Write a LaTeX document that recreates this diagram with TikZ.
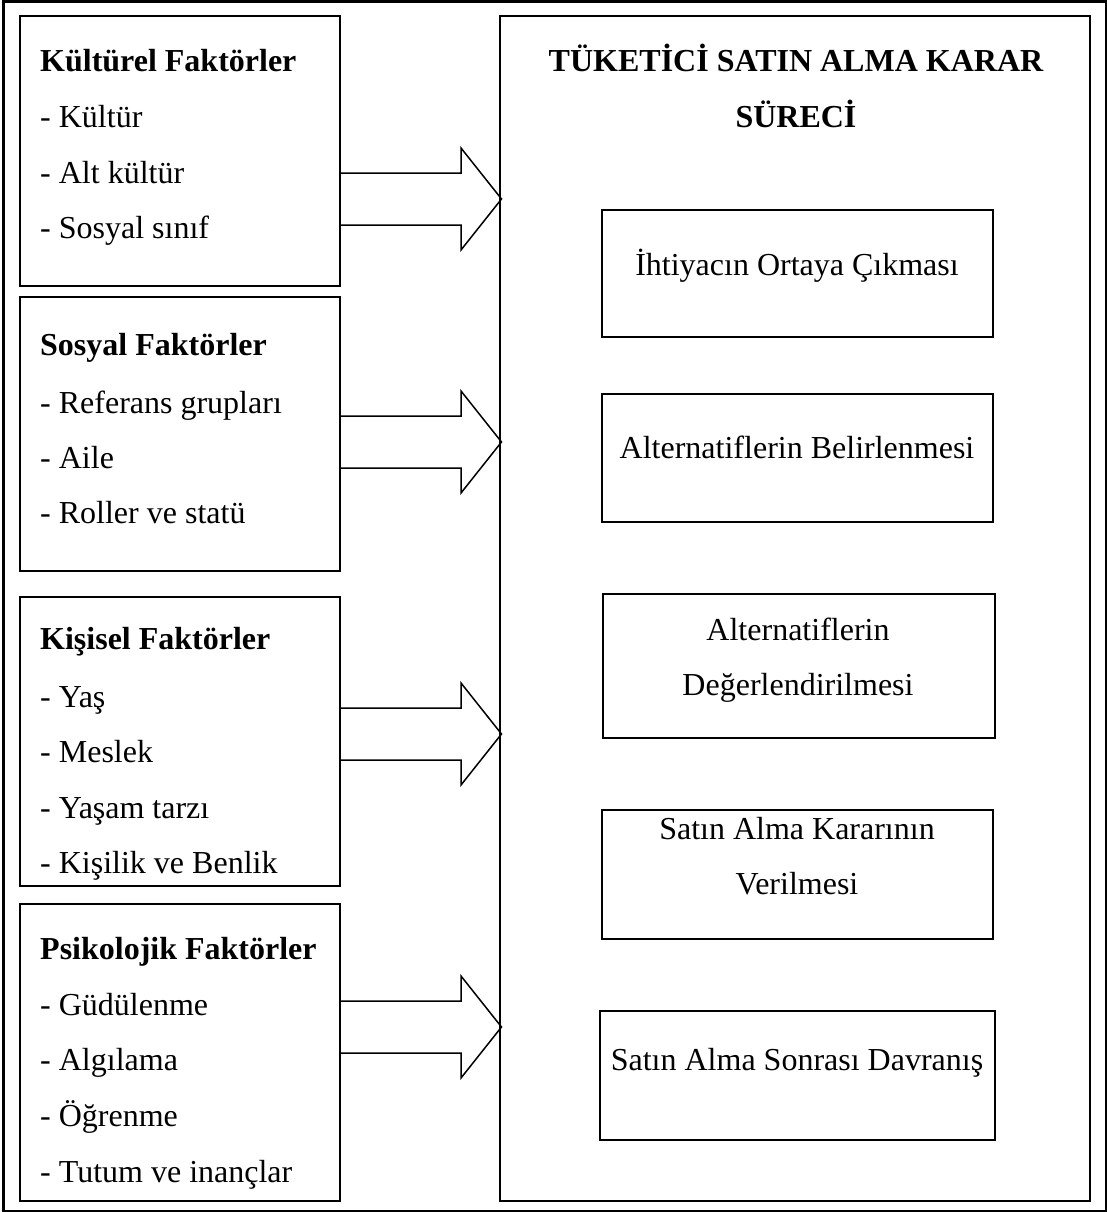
\documentclass[tikz,border=0pt]{standalone}
\usepackage{fontspec}
\setmainfont{Liberation Serif}
\usetikzlibrary{calc}
\begin{document}
\begin{tikzpicture}[x=1pt,y=-1pt,
  frame/.style={draw, line width=2.6pt},
  box/.style={draw, line width=1.9pt, rectangle, inner sep=0, outer sep=0},
  blockarrow/.style={draw, line width=1.5pt, line join=miter},
  item/.style={anchor=base west, inner sep=0, font=\fontsize{32}{38}\selectfont},
  head/.style={item, font=\fontsize{32}{38}\selectfont\bfseries},
  step title/.style={anchor=base, inner sep=0, font=\fontsize{32}{38}\selectfont\bfseries},
  stagetext/.style={anchor=base, inner sep=0, font=\fontsize{32}{38}\selectfont}]

\useasboundingbox (0,0) rectangle (1107,1212);

% outer frame
\draw[frame] (3.5,1.3) rectangle (1106,1211);

% factor boxes (left column)
\node[box, minimum width=320pt, minimum height=270pt] (kul) at (180,151) {};
\node[box, minimum width=320pt, minimum height=274pt] (sos) at (180,434) {};
\node[box, minimum width=320pt, minimum height=289pt] (kis) at (180,741.5) {};
\node[box, minimum width=320pt, minimum height=297pt] (psi) at (180,1052.5) {};

% decision process box
\node[box, minimum width=590pt, minimum height=1185pt] (big) at (795,608.5) {};

% process stages
\node[box, minimum width=391pt, minimum height=127pt] (s1) at (797.5,273.5) {};
\node[box, minimum width=391pt, minimum height=128pt] (s2) at (797.5,458) {};
\node[box, minimum width=392pt, minimum height=144pt] (s3) at (799,666) {};
\node[box, minimum width=391pt, minimum height=129pt] (s4) at (797.5,874.5) {};
\node[box, minimum width=395pt, minimum height=129pt] (s5) at (797.5,1075.5) {};

% left texts
\node[head] (kulh) at (40,72) {Kültürel Faktörler};
\node[item] (kul1) at (40,128) {- Kültür};
\node[item] (kul2) at (40,183) {- Alt kültür};
\node[item] (kul3) at (40,238) {- Sosyal sınıf};

\node[head] (sosh) at (40,355) {Sosyal Faktörler};
\node[item] (sos1) at (40,413) {- Referans grupları};
\node[item] (sos2) at (40,468) {- Aile};
\node[item] (sos3) at (40,523) {- Roller ve statü};

\node[head] (kish) at (40,649) {Kişisel Faktörler};
\node[item] (kis1) at (40,707) {- Yaş};
\node[item] (kis2) at (40,762) {- Meslek};
\node[item] (kis3) at (40,818) {- Yaşam tarzı};
\node[item] (kis4) at (40,873) {- Kişilik ve Benlik};

\node[head] (psih) at (40,959) {Psikolojik Faktörler};
\node[item] (psi1) at (40,1015) {- Güdülenme};
\node[item] (psi2) at (40,1070) {- Algılama};
\node[item] (psi3) at (40,1126) {- Öğrenme};
\node[item] (psi4) at (40,1182) {- Tutum ve inançlar};

% right texts
\node[step title] (t1) at (796,72) {TÜKETİCİ SATIN ALMA KARAR};
\node[step title] (t2) at (796,128) {SÜRECİ};
\node[stagetext] (s1t) at (797,275) {İhtiyacın Ortaya Çıkması};
\node[stagetext] (s2t) at (797,458) {Alternatiflerin Belirlenmesi};
\node[stagetext] (s3a) at (798,640) {Alternatiflerin};
\node[stagetext] (s3b) at (798,695) {Değerlendirilmesi};
\node[stagetext] (s4a) at (797,839) {Satın Alma Kararının};
\node[stagetext] (s4b) at (797,894) {Verilmesi};
\node[stagetext] (s5t) at (797,1070) {Satın Alma Sonrası Davranış};

% block arrows from each factor group into the process box
\coordinate (l1) at (0,199);
\coordinate (l2) at (0,442);
\coordinate (l3) at (0,734);
\coordinate (l4) at (0,1027);
\foreach \src/\lvl in {kul/l1, sos/l2, kis/l3, psi/l4}{
  \draw[blockarrow]
    ($(\src.east |- \lvl)+(0,-26)$) -- ($(big.west |- \lvl)+(-39,-26)$)
    -- ++(0,-25) -- ($(big.west |- \lvl)+(1.5,0)$)
    -- ($(big.west |- \lvl)+(-39,51)$) -- ++(0,-25)
    -- ($(\src.east |- \lvl)+(0,26)$);
}
\end{tikzpicture}
\end{document}
